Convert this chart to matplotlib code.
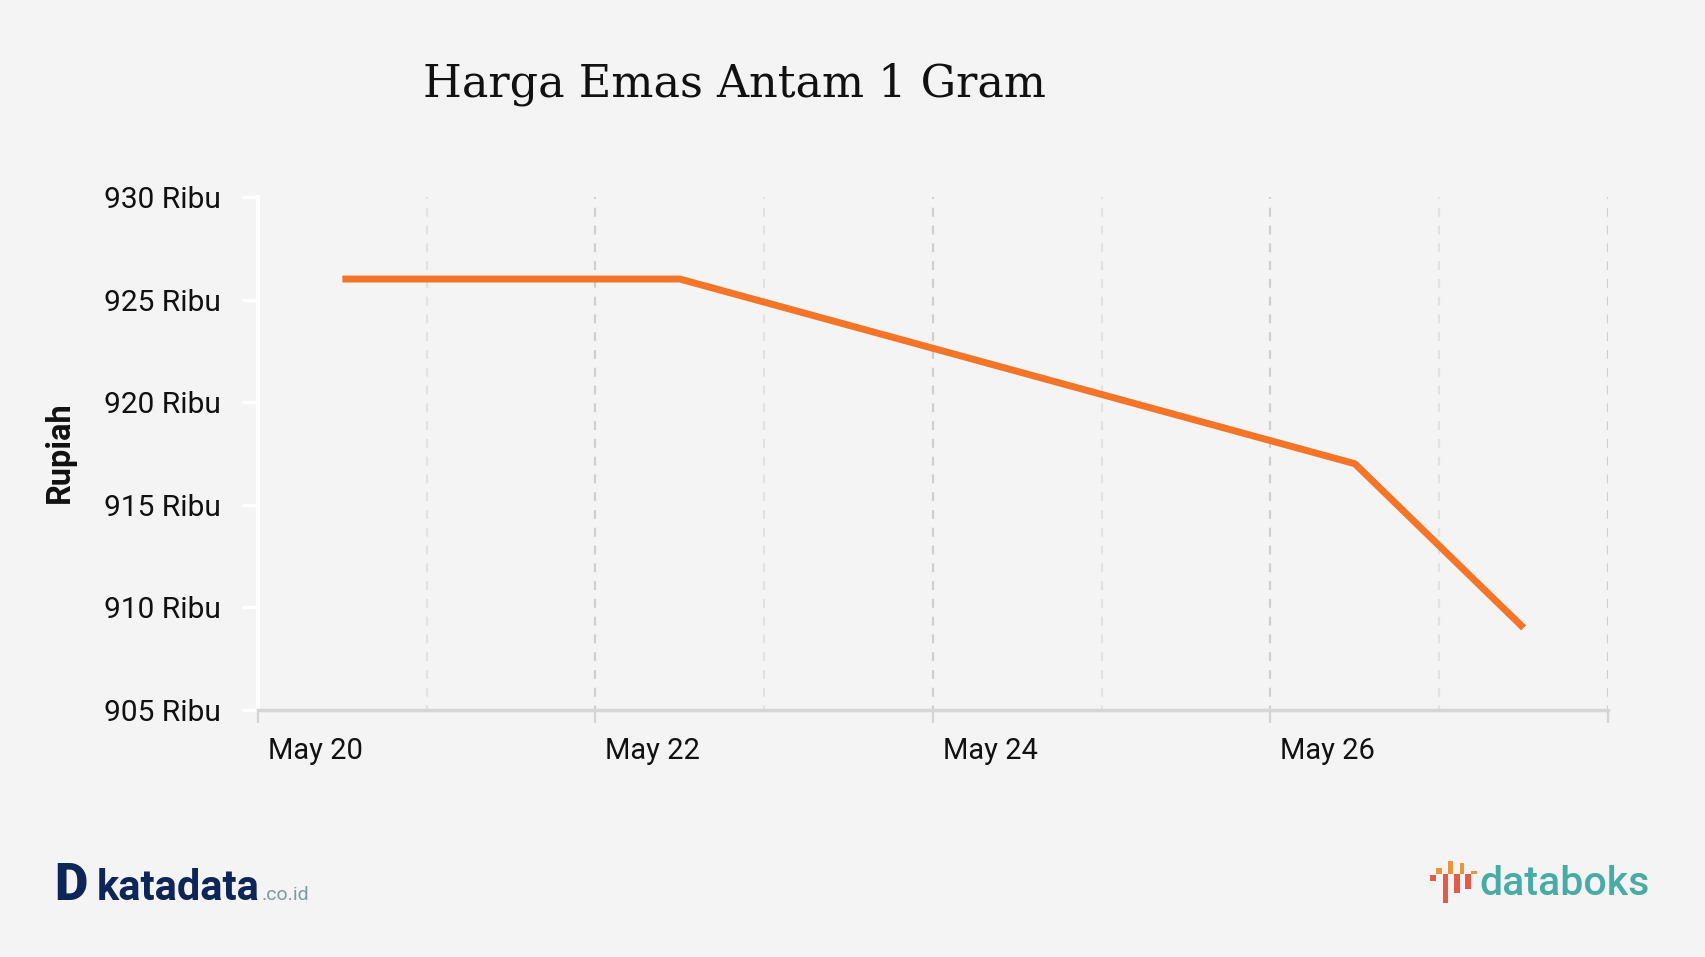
import matplotlib
matplotlib.use("Agg")
import matplotlib.pyplot as plt
import matplotlib.dates as mdates
import matplotlib.transforms as mtrans
from matplotlib.patches import Rectangle
from datetime import datetime

# data (price in thousand rupiah)
dates = [datetime(2023, 5, 20, 12), datetime(2023, 5, 21, 12), datetime(2023, 5, 22, 12),
         datetime(2023, 5, 26, 12), datetime(2023, 5, 27, 12)]
prices = [926, 926, 926, 917, 909]
y_ticks = [905, 910, 915, 920, 925, 930]
x_start = datetime(2023, 5, 20)
x_end = datetime(2023, 5, 28)

BG = "#f4f4f4"
ORANGE = "#f47528"
W, H = 1705, 957

plt.rcParams["font.family"] = ["Roboto", "DejaVu Sans"]

fig = plt.figure(figsize=(W / 100, H / 100), dpi=100, facecolor=BG)
ax = fig.add_axes([0.1513, 0.2581, 0.7918, 0.5361], facecolor=BG)

# vertical grid: every day, darker on even days
day = mdates.date2num(x_start)
while day <= mdates.date2num(x_end) + 0.01:
    major = int(round(day - mdates.date2num(x_start))) % 2 == 0
    ax.axvline(day, color="#cfcfcf" if major else "#e2e2e2", lw=1.6,
               ls=(2, (4, 4)), zorder=1)
    day += 1

ax.plot(dates, prices, color=ORANGE, lw=5, solid_capstyle="butt", zorder=3)

ax.set_xlim(x_start, x_end)
ax.set_ylim(905, 930)
ax.set_yticks(y_ticks)
ax.set_yticklabels([f"{v} Ribu" for v in y_ticks], fontsize=21.5, color="#111111")
ax.tick_params(axis="y", length=11.5, width=2.5, color="white", pad=15.5)

ax.xaxis.set_major_locator(mdates.DayLocator(bymonthday=[20, 22, 24, 26, 28]))
ax.xaxis.set_major_formatter(mdates.DateFormatter("%b %d"))
ax.tick_params(axis="x", length=9.6, width=1.6, color="#d4d4d4", pad=10,
               labelsize=21, labelcolor="#111111")
fig.canvas.draw()
shift = mtrans.ScaledTranslation(7 / 72, 0, fig.dpi_scale_trans)
for lab in ax.get_xticklabels():
    lab.set_horizontalalignment("left")
    lab.set_transform(lab.get_transform() + shift)
    if lab.get_text().endswith("28"):
        lab.set_visible(False)

for s in ["top", "right"]:
    ax.spines[s].set_visible(False)
ax.spines["left"].set_color("white")
ax.spines["left"].set_linewidth(3)
ax.spines["bottom"].set_color("#d6d6d6")
ax.spines["bottom"].set_linewidth(2.5)

# title and axis label
fig.text(0.248, 0.912, "Harga Emas Antam 1 Gram", fontsize=32, family="DejaVu Serif",
         color="#111111", ha="left", va="center")
fig.text(0.035, 0.528, "Rupiah", rotation=90, fontsize=23.5, fontweight="bold",
         color="#111111", ha="center", va="center")

# katadata logo
base_k = 1 - 900 / H
fig.text(54 / W, base_k, "D", fontsize=37, fontweight="black", color="#0d2557",
         ha="left", va="baseline")
fig.text(97 / W, base_k, "katadata", fontsize=30, fontweight="bold", color="#0d2557",
         ha="left", va="baseline")
fig.text(262 / W, base_k, ".co.id", fontsize=14, color="#7f9a9c", ha="left",
         va="baseline")

# databoks logo (pixel boxes: x0, x1, y_top, y_bottom)
bars = [(1430, 1436, 875, 881, "#e25c4b"), (1436, 1442, 868, 874, "#e8963e"),
        (1443, 1448, 874, 903, "#e25c4b"), (1448, 1453, 861, 874, "#e8963e"),
        (1454, 1460, 874, 893, "#e25c4b"), (1460, 1464, 863, 874, "#e8963e"),
        (1465, 1471, 874, 889, "#e25c4b"), (1471, 1477, 871, 874, "#e8963e")]
for x0, x1, yt, yb, c in bars:
    fig.add_artist(Rectangle((x0 / W, 1 - yb / H), (x1 - x0) / W, (yb - yt) / H,
                             transform=fig.transFigure, color=c, lw=0))
fig.text(1479 / W, 1 - 895 / H, "databoks", fontsize=29.5, fontweight="medium",
         color="#48aba6", ha="left", va="baseline")

fig.savefig("out.png", dpi=100, facecolor=BG)
